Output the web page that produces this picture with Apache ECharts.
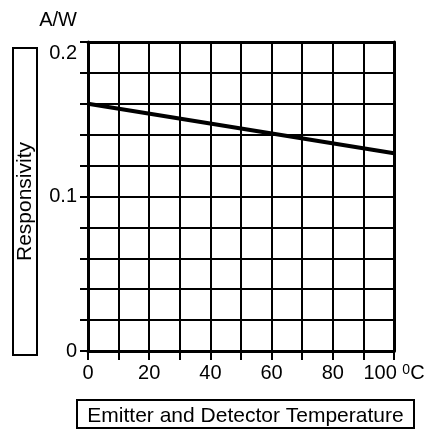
<!DOCTYPE html>
<html>
<head>
<meta charset="utf-8">
<script src="https://cdn.jsdelivr.net/npm/echarts@6/dist/echarts.min.js"></script>
<style>
html,body{margin:0;padding:0;background:#fff;}
#c{width:433px;height:429px;}
</style>
</head>
<body>
<div id="c"></div>
<script>
// Data
var temperature = [0, 100];            // °C
var responsivity = [0.160, 0.128];     // A/W
var xTickLabels = [0, 20, 40, 60, 80, 100];
var yTickLabels = [0, 0.1, 0.2];
var xTitle = 'Emitter and Detector Temperature';
var yTitle = 'Responsivity';
var yUnit = 'A/W';
var xUnit = '0C';

var FONT = '"Liberation Sans", Arial, Helvetica, sans-serif';
var seriesData = temperature.map(function (t, i) { return [t, responsivity[i]]; });

var chart = echarts.init(document.getElementById('c'), null, {renderer: 'canvas'});
chart.setOption({
  animation: false,
  backgroundColor: '#fff',
  textStyle: {fontFamily: FONT, color: '#000'},
  grid: {left: 88, top: 42, width: 306, height: 309, containLabel: false},
  xAxis: [{
    type: 'value', position: 'bottom', min: 0, max: 100, interval: 10,
    axisLine: {show: true, onZero: false, lineStyle: {color: '#000', width: 3}},
    axisTick: {show: true, length: 9, lineStyle: {color: '#000', width: 2}},
    splitLine: {show: true, lineStyle: {color: '#000', width: 2}},
    axisLabel: {
      margin: 12, fontSize: 20, lineHeight: 20, color: '#000', fontFamily: FONT,
      formatter: function (v) {
        if (xTickLabels.indexOf(v) < 0) return '';
        if (v === xTickLabels[xTickLabels.length - 1]) return v + ' {sup|' + xUnit.charAt(0) + '}' + xUnit.slice(1);
        return String(v);
      },
      rich: {sup: {fontSize: 14, lineHeight: 8, verticalAlign: 'top', fontFamily: FONT, color: '#000'}}
    }
  }, {
    type: 'value', position: 'top', min: 0, max: 100, interval: 10,
    axisLine: {show: true, onZero: false, lineStyle: {color: '#000', width: 3}},
    axisTick: {show: false}, axisLabel: {show: false}, splitLine: {show: false}
  }],
  yAxis: [{
    type: 'value', position: 'left', min: 0, max: 0.2, interval: 0.02,
    axisLine: {show: true, onZero: false, lineStyle: {color: '#000', width: 3}},
    axisTick: {show: true, length: 8, lineStyle: {color: '#000', width: 2}},
    splitLine: {show: true, lineStyle: {color: '#000', width: 2}},
    axisLabel: {
      margin: 11, fontSize: 20, color: '#000', fontFamily: FONT,
      formatter: function (v) {
        var r = Math.round(v * 100) / 100;
        if (yTickLabels.indexOf(r) < 0) return '';
        if (r === yTickLabels[yTickLabels.length - 1]) return '{u|' + yUnit + '}\n{n|' + r + '}';
        return String(r);
      },
      rich: {
        u: {fontSize: 20, lineHeight: 22, fontFamily: FONT, color: '#000', align: 'right'},
        n: {fontSize: 20, lineHeight: 44, fontFamily: FONT, color: '#000', align: 'right'}
      }
    }
  }, {
    type: 'value', position: 'right', min: 0, max: 0.2, interval: 0.02,
    axisLine: {show: true, onZero: false, lineStyle: {color: '#000', width: 3}},
    axisTick: {show: false}, axisLabel: {show: false}, splitLine: {show: false}
  }],
  graphic: [
    {type: 'rect', shape: {x: 77, y: 400, width: 337, height: 28},
     style: {fill: 'none', stroke: '#000', lineWidth: 2}},
    {type: 'text', x: 245.5, y: 416.5,
     style: {text: xTitle, font: '21px ' + FONT, fill: '#000', align: 'center', verticalAlign: 'middle'}},
    {type: 'rect', shape: {x: 13, y: 48, width: 24, height: 307},
     style: {fill: 'none', stroke: '#000', lineWidth: 2}},
    {type: 'text', x: 25, y: 201.5, rotation: Math.PI / 2,
     style: {text: yTitle, font: '21px ' + FONT, fill: '#000', align: 'center', verticalAlign: 'middle'}}
  ],
  series: [{
    type: 'line', xAxisIndex: 0, yAxisIndex: 0, data: seriesData,
    showSymbol: false, symbol: 'none',
    lineStyle: {color: '#000', width: 4}, z: 5
  }]
});
</script>
</body>
</html>
